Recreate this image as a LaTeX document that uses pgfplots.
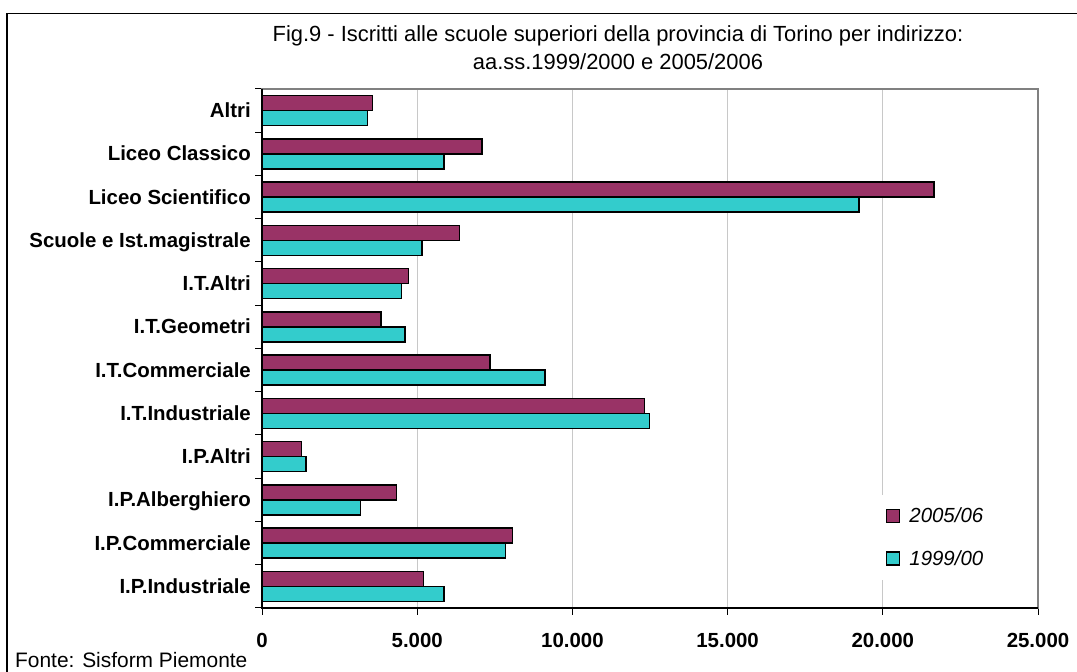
\documentclass[border=0pt]{standalone}
\usepackage{pgfplots}
\pgfplotsset{compat=1.18}
\usepackage{fontspec}
\setmainfont{Liberation Sans}
\definecolor{maroonbar}{RGB}{153,51,102}
\definecolor{cyanbar}{RGB}{51,204,204}
\definecolor{gridgray}{RGB}{200,200,200}
\definecolor{framegray}{RGB}{128,128,128}
\begin{document}
\begin{tikzpicture}[x=1bp,y=1bp]
\useasboundingbox (0,0) rectangle (1077,672);
\draw[line width=1.5bp] (7,-2) -- (7,658.7) -- (1079,658.7);
\node[anchor=base,font=\fontsize{22}{26}\selectfont] at (618,630) {Fig.9 - Iscritti alle scuole superiori della provincia di Torino per indirizzo:};
\node[anchor=base,font=\fontsize{22}{26}\selectfont] at (618,602) {aa.ss.1999/2000 e 2005/2006};
\node[anchor=base west,inner sep=0pt,font=\fontsize{21}{25}\selectfont] at (15,4) {Fonte: Sisform Piemonte};
\begin{axis}[
  at={(262bp,64bp)}, anchor=south west,
  scale only axis, width=776bp, height=519bp,
  xbar, bar width=15bp,
  xmin=0, xmax=25000, ymin=-0.5, ymax=11.5,
  scaled x ticks=false,
  xtick={0,5000,10000,15000,20000,25000},
  xticklabels={0,5.000,10.000,15.000,20.000,25.000},
  ytick={0,...,11},
  yticklabels={I.P.Industriale,I.P.Commerciale,I.P.Alberghiero,I.P.Altri,I.T.Industriale,I.T.Commerciale,I.T.Geometri,I.T.Altri,Scuole e Ist.magistrale,Liceo Scientifico,Liceo Classico,Altri},
  minor ytick={-0.5,0.5,...,11.5},
  tick align=outside, major tick length=7bp, minor tick length=7bp,
  tick style={black, line width=1bp},
  every major y tick/.append style={draw=none},
  xtick pos=bottom, ytick pos=left,
  xmajorgrids, major grid style={gridgray, line width=1bp},
  axis line style={framegray, line width=1.5bp},
  ticklabel style={font=\bfseries\fontsize{20.5}{24}\selectfont},
  xticklabel style={anchor=base, inner sep=0pt, yshift=-33bp},
  yticklabel style={anchor=base east, inner sep=0pt, yshift=-7bp, xshift=-4bp},
  legend style={at={(rel axis cs:0.796,0.218)}, anchor=north west, draw=none, fill=white,
    font=\itshape\fontsize{20.5}{24}\selectfont, inner xsep=6bp, inner ysep=10bp, row sep=20bp,
    nodes={inner sep=3bp},
    /tikz/every odd column/.append style={column sep=6bp}},
  legend cell align=left,
  legend image code/.code={\draw[#1, line width=1.5bp] (0bp,-6.5bp) rectangle (13bp,6.5bp);},
  clip=false,
]
\addplot[fill=maroonbar, draw=black, line width=1.5bp, bar shift=7.5bp] coordinates {
(5210,0) (8070,1) (4340,2) (1270,3) (12320,4) (7350,5) (3840,6) (4720,7) (6360,8) (21650,9) (7090,10) (3560,11)};
\addplot[fill=cyanbar, draw=black, line width=1.5bp, bar shift=-7.5bp] coordinates {
(5870,0) (7850,1) (3170,2) (1420,3) (12480,4) (9110,5) (4610,6) (4490,7) (5160,8) (19240,9) (5870,10) (3400,11)};
\legend{2005/06,1999/00}
\draw[black, line width=1.5bp] (rel axis cs:0,1) -- (rel axis cs:0,0) -- (rel axis cs:1,0);
\end{axis}
\end{tikzpicture}
\end{document}
